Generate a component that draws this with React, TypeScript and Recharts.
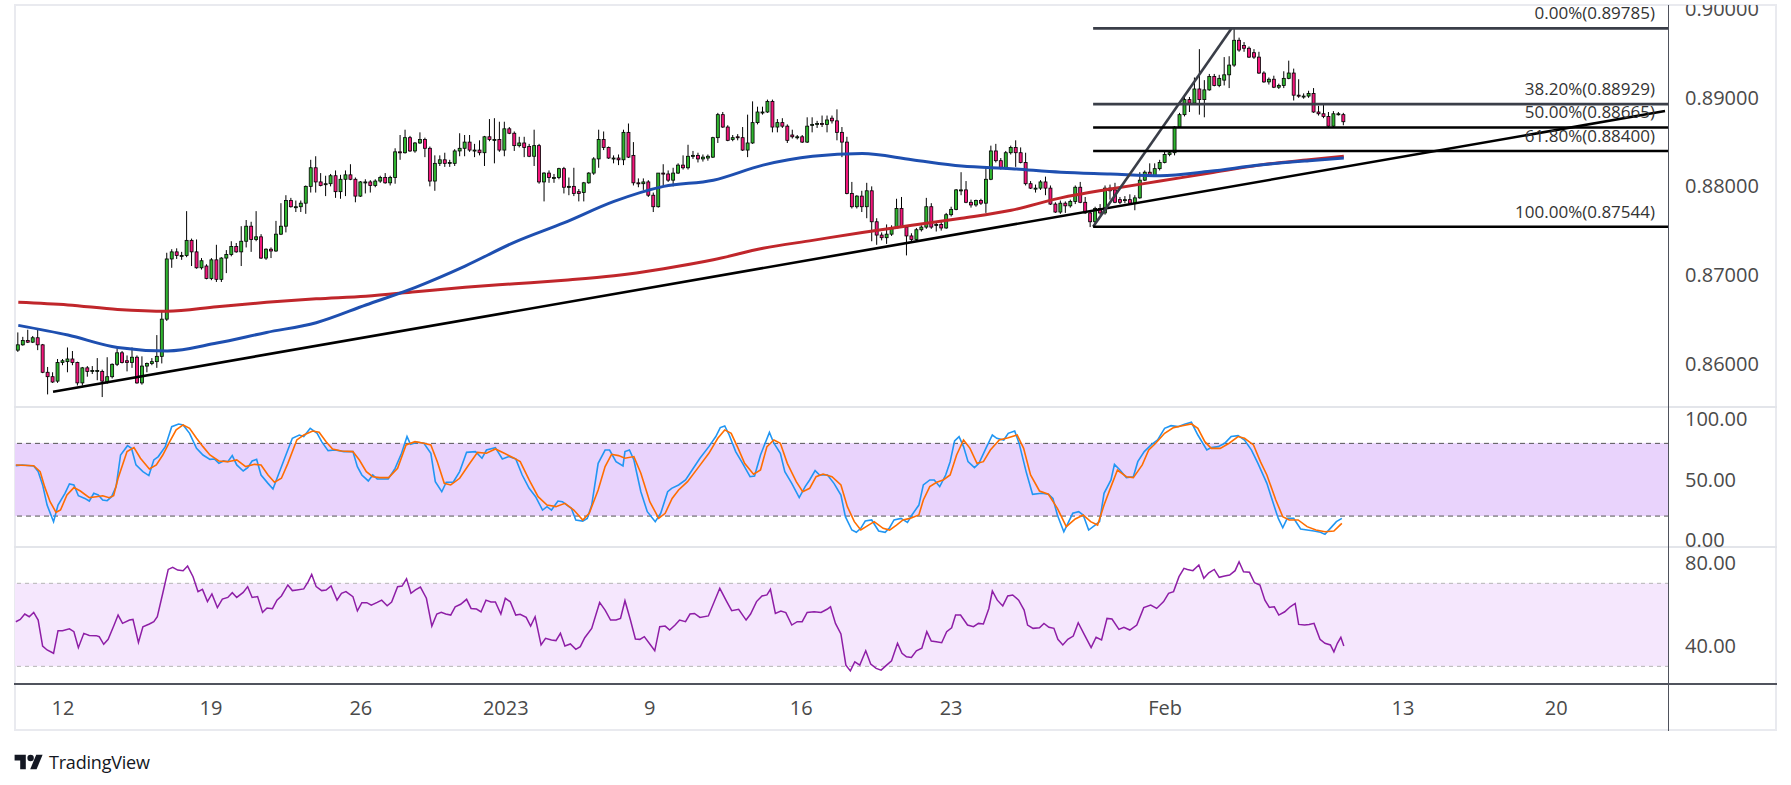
import { Bar, ComposedChart, Line, ReferenceArea, ReferenceLine, XAxis, YAxis } from "recharts";

// 4H candles, [open, high, low, close]
const CANDLES: [number, number, number, number][] = [
  [0.8615, 0.8635, 0.8613, 0.8621], [0.8621, 0.863, 0.862, 0.8626], [0.8626, 0.8638, 0.8623, 0.8624], [0.8624, 0.8631, 0.8623, 0.8629],
  [0.8629, 0.8639, 0.8615, 0.8621], [0.8621, 0.8622, 0.8589, 0.859], [0.859, 0.8596, 0.8565, 0.8585], [0.8585, 0.859, 0.8578, 0.8579],
  [0.858, 0.8605, 0.8578, 0.8601], [0.8601, 0.8605, 0.8598, 0.8603], [0.8602, 0.8618, 0.859, 0.8605], [0.8605, 0.8614, 0.8598, 0.8601],
  [0.8601, 0.8602, 0.8575, 0.8578], [0.8578, 0.8596, 0.8575, 0.8595], [0.8595, 0.8597, 0.8585, 0.8591], [0.8592, 0.8597, 0.8588, 0.8592],
  [0.8592, 0.8606, 0.8581, 0.8592], [0.8591, 0.8593, 0.8562, 0.858], [0.8579, 0.8607, 0.8577, 0.8585], [0.8585, 0.86, 0.8583, 0.8599],
  [0.8599, 0.8617, 0.8597, 0.8612], [0.8612, 0.8614, 0.86, 0.8601], [0.8603, 0.8609, 0.8591, 0.8601], [0.8601, 0.8618, 0.8595, 0.8607],
  [0.8607, 0.8609, 0.8577, 0.8578], [0.8578, 0.8608, 0.8576, 0.8597], [0.8597, 0.8601, 0.859, 0.86], [0.86, 0.8606, 0.8598, 0.8602],
  [0.8602, 0.8632, 0.8595, 0.8608], [0.8608, 0.866, 0.86, 0.865], [0.865, 0.8725, 0.8648, 0.8718], [0.8718, 0.8729, 0.8708, 0.8726],
  [0.8726, 0.873, 0.8718, 0.8722], [0.8722, 0.8726, 0.8717, 0.8722], [0.8722, 0.8772, 0.872, 0.8739], [0.8739, 0.8741, 0.871, 0.8726],
  [0.8726, 0.874, 0.8707, 0.8708], [0.8708, 0.8719, 0.8706, 0.8716], [0.871, 0.8712, 0.8695, 0.8696], [0.8696, 0.8719, 0.8694, 0.8717],
  [0.8717, 0.8734, 0.8692, 0.8695], [0.8695, 0.872, 0.8692, 0.8719], [0.8719, 0.8728, 0.8702, 0.8723], [0.8723, 0.8738, 0.8721, 0.8732],
  [0.8732, 0.8736, 0.8725, 0.8726], [0.8726, 0.8755, 0.871, 0.8738], [0.8738, 0.8762, 0.8731, 0.8755], [0.8755, 0.876, 0.8726, 0.874],
  [0.874, 0.8772, 0.8738, 0.8743], [0.8743, 0.8746, 0.8718, 0.8719], [0.8719, 0.873, 0.8717, 0.8729], [0.8729, 0.8731, 0.8719, 0.8727],
  [0.8727, 0.8761, 0.8726, 0.8746], [0.8746, 0.8781, 0.8745, 0.8755], [0.8755, 0.879, 0.8748, 0.8784], [0.8784, 0.8787, 0.8776, 0.8777],
  [0.8777, 0.8784, 0.8771, 0.8777], [0.8777, 0.8784, 0.8771, 0.8781], [0.8781, 0.8801, 0.8769, 0.88], [0.88, 0.883, 0.8793, 0.8821],
  [0.8821, 0.8834, 0.8793, 0.8805], [0.8805, 0.8815, 0.88, 0.8801], [0.8802, 0.8812, 0.8789, 0.8803], [0.8803, 0.8814, 0.88, 0.8812],
  [0.8812, 0.8818, 0.8787, 0.8794], [0.8794, 0.8813, 0.8786, 0.8808], [0.8808, 0.8818, 0.8789, 0.8813], [0.8813, 0.8825, 0.8807, 0.8808],
  [0.8808, 0.881, 0.8782, 0.8789], [0.8789, 0.8806, 0.8788, 0.8805], [0.8805, 0.8808, 0.8792, 0.8805], [0.8805, 0.8807, 0.8793, 0.8801],
  [0.8801, 0.8808, 0.8799, 0.8806], [0.8806, 0.8812, 0.8804, 0.881], [0.881, 0.8815, 0.8803, 0.8804], [0.8804, 0.8812, 0.8801, 0.881],
  [0.881, 0.8843, 0.8803, 0.8839], [0.8839, 0.8858, 0.883, 0.8838], [0.8838, 0.8864, 0.8837, 0.8855], [0.8855, 0.8857, 0.8839, 0.884],
  [0.884, 0.885, 0.8838, 0.8849], [0.8849, 0.8861, 0.8848, 0.8853], [0.8853, 0.8855, 0.8833, 0.8843], [0.8843, 0.8845, 0.88, 0.8806],
  [0.8806, 0.8835, 0.8795, 0.8826], [0.8826, 0.8835, 0.8823, 0.883], [0.883, 0.8838, 0.8822, 0.8826], [0.8826, 0.883, 0.8822, 0.8827],
  [0.8826, 0.8842, 0.8823, 0.884], [0.884, 0.886, 0.8834, 0.8843], [0.8843, 0.8858, 0.8834, 0.885], [0.885, 0.8858, 0.8839, 0.8841],
  [0.8841, 0.8848, 0.8833, 0.8841], [0.8841, 0.8852, 0.8835, 0.8838], [0.8838, 0.8857, 0.8823, 0.8856], [0.8856, 0.8876, 0.8851, 0.8853],
  [0.8853, 0.8877, 0.8826, 0.8853], [0.8853, 0.8873, 0.8839, 0.8841], [0.8841, 0.8873, 0.8834, 0.8865], [0.8865, 0.8867, 0.8859, 0.886],
  [0.886, 0.8862, 0.884, 0.8846], [0.8846, 0.8856, 0.8844, 0.8849], [0.8849, 0.8856, 0.8833, 0.8844], [0.8845, 0.8848, 0.8833, 0.8834],
  [0.8834, 0.8864, 0.8823, 0.8846], [0.8846, 0.8848, 0.8803, 0.8805], [0.8805, 0.8816, 0.8783, 0.8815], [0.8815, 0.8818, 0.8804, 0.881],
  [0.881, 0.8814, 0.8804, 0.881], [0.881, 0.8821, 0.8808, 0.882], [0.882, 0.8822, 0.8792, 0.8799], [0.8799, 0.881, 0.879, 0.88],
  [0.88, 0.8821, 0.8789, 0.8792], [0.8794, 0.8797, 0.8783, 0.8792], [0.8793, 0.8805, 0.8783, 0.8804], [0.8804, 0.8816, 0.8803, 0.8815],
  [0.8815, 0.8833, 0.8813, 0.8831], [0.8831, 0.8864, 0.8821, 0.8853], [0.8853, 0.8862, 0.8841, 0.8844], [0.8844, 0.8845, 0.8831, 0.8832],
  [0.8832, 0.8835, 0.8826, 0.8832], [0.8832, 0.8836, 0.8824, 0.883], [0.883, 0.8864, 0.8824, 0.8861], [0.8861, 0.8871, 0.8832, 0.8833],
  [0.8835, 0.885, 0.8801, 0.8804], [0.8804, 0.8809, 0.8799, 0.8803], [0.8803, 0.8809, 0.8796, 0.8805], [0.8805, 0.8807, 0.8788, 0.879],
  [0.879, 0.8793, 0.8771, 0.8777], [0.8777, 0.8815, 0.8776, 0.8815], [0.8815, 0.8825, 0.8801, 0.8814], [0.8814, 0.8818, 0.8805, 0.8807],
  [0.8807, 0.8821, 0.88, 0.8815], [0.8815, 0.8826, 0.8814, 0.8824], [0.8824, 0.8835, 0.8819, 0.8821], [0.8821, 0.8847, 0.8819, 0.8834],
  [0.8834, 0.884, 0.8831, 0.8835], [0.8835, 0.8838, 0.8827, 0.8831], [0.8831, 0.8836, 0.8828, 0.8833], [0.8832, 0.8836, 0.8829, 0.8834],
  [0.8833, 0.8856, 0.8832, 0.8855], [0.8855, 0.8883, 0.8849, 0.8881], [0.8881, 0.8884, 0.8866, 0.8867], [0.8867, 0.8869, 0.8851, 0.8852],
  [0.8853, 0.8858, 0.8851, 0.8855], [0.8856, 0.8859, 0.8852, 0.8855], [0.8855, 0.8867, 0.884, 0.8841], [0.8841, 0.8881, 0.8833, 0.8849],
  [0.8849, 0.8896, 0.8848, 0.8872], [0.8872, 0.889, 0.887, 0.8884], [0.8884, 0.889, 0.8881, 0.8884], [0.8884, 0.8898, 0.8883, 0.8896],
  [0.8896, 0.8898, 0.8861, 0.8867], [0.8867, 0.8876, 0.8861, 0.8872], [0.8872, 0.8877, 0.8866, 0.8868], [0.8868, 0.887, 0.8849, 0.8852],
  [0.8858, 0.8864, 0.8854, 0.8856], [0.8856, 0.8858, 0.8853, 0.8856], [0.8856, 0.8858, 0.8849, 0.885], [0.885, 0.8878, 0.8849, 0.8868],
  [0.8869, 0.8878, 0.8861, 0.887], [0.887, 0.8874, 0.8866, 0.8871], [0.8871, 0.888, 0.8867, 0.887], [0.887, 0.888, 0.8861, 0.8875],
  [0.8877, 0.888, 0.8871, 0.8874], [0.8874, 0.8887, 0.8852, 0.8861], [0.8861, 0.8867, 0.8833, 0.885], [0.885, 0.8856, 0.8791, 0.8792],
  [0.8792, 0.8805, 0.8775, 0.8777], [0.8777, 0.879, 0.8775, 0.8789], [0.8789, 0.8795, 0.8771, 0.8777], [0.8777, 0.8804, 0.8764, 0.8795],
  [0.8795, 0.88, 0.8738, 0.876], [0.876, 0.8764, 0.8734, 0.8745], [0.8745, 0.8748, 0.8739, 0.8742], [0.8742, 0.8757, 0.8735, 0.8746],
  [0.8746, 0.8756, 0.8744, 0.8753], [0.8753, 0.8786, 0.8752, 0.8775], [0.8775, 0.8788, 0.8753, 0.8754], [0.8754, 0.8756, 0.8722, 0.8744],
  [0.8744, 0.8747, 0.8738, 0.874], [0.874, 0.8753, 0.8738, 0.8751], [0.8751, 0.8756, 0.8749, 0.8754], [0.8754, 0.8787, 0.8752, 0.8777],
  [0.8777, 0.8781, 0.8752, 0.8754], [0.8757, 0.876, 0.8749, 0.8757], [0.8757, 0.876, 0.875, 0.8753], [0.8753, 0.877, 0.8752, 0.8768],
  [0.8768, 0.8777, 0.8766, 0.8774], [0.8774, 0.8797, 0.8773, 0.8796], [0.8796, 0.8816, 0.879, 0.8796], [0.8796, 0.8806, 0.8781, 0.8782],
  [0.8782, 0.8785, 0.8776, 0.8779], [0.8779, 0.8785, 0.8777, 0.8784], [0.8784, 0.8786, 0.8779, 0.8781], [0.8781, 0.8821, 0.877, 0.8808],
  [0.8808, 0.8846, 0.8807, 0.884], [0.884, 0.8848, 0.8827, 0.8829], [0.8829, 0.8832, 0.8819, 0.8821], [0.8821, 0.884, 0.8819, 0.8838],
  [0.8838, 0.8846, 0.8836, 0.8844], [0.8844, 0.8852, 0.8822, 0.8838], [0.8838, 0.8844, 0.8826, 0.8827], [0.8827, 0.8838, 0.8801, 0.8803],
  [0.8803, 0.8806, 0.8797, 0.8798], [0.8798, 0.8802, 0.8793, 0.8798], [0.8798, 0.8807, 0.8796, 0.8805], [0.8805, 0.8811, 0.879, 0.8798],
  [0.8798, 0.8801, 0.8779, 0.878], [0.878, 0.8782, 0.877, 0.8771], [0.8771, 0.8784, 0.8769, 0.8781], [0.8781, 0.8783, 0.877, 0.8778],
  [0.8778, 0.8785, 0.8776, 0.8783], [0.8783, 0.8801, 0.878, 0.8799], [0.8799, 0.8805, 0.8781, 0.8782], [0.8782, 0.8788, 0.8769, 0.877],
  [0.877, 0.8772, 0.8754, 0.876], [0.876, 0.8777, 0.8757, 0.8775], [0.8775, 0.878, 0.8768, 0.877], [0.877, 0.8801, 0.8768, 0.8798],
  [0.8798, 0.8802, 0.8785, 0.8795], [0.8796, 0.8804, 0.8781, 0.8782], [0.8785, 0.8788, 0.878, 0.8782], [0.8785, 0.8789, 0.8781, 0.8785],
  [0.8785, 0.8791, 0.8779, 0.8781], [0.8781, 0.879, 0.8773, 0.8787], [0.8787, 0.8816, 0.8786, 0.8807], [0.8807, 0.8818, 0.8806, 0.8816],
  [0.8816, 0.8826, 0.8811, 0.8812], [0.8812, 0.8826, 0.8811, 0.882], [0.882, 0.883, 0.8818, 0.8827], [0.8827, 0.8839, 0.8826, 0.8836],
  [0.8836, 0.884, 0.8834, 0.8838], [0.8838, 0.8868, 0.8835, 0.8867], [0.8867, 0.8883, 0.8866, 0.8881], [0.8881, 0.8903, 0.8879, 0.8898],
  [0.8898, 0.8901, 0.8884, 0.8894], [0.8894, 0.8923, 0.8893, 0.891], [0.891, 0.8955, 0.8881, 0.8898], [0.8898, 0.892, 0.8878, 0.8909],
  [0.8909, 0.8927, 0.8908, 0.8924], [0.8924, 0.8927, 0.8913, 0.8914], [0.8914, 0.8926, 0.8912, 0.8922], [0.892, 0.8946, 0.8914, 0.8926],
  [0.8926, 0.8947, 0.8911, 0.8937], [0.8937, 0.8978, 0.8935, 0.8965], [0.8965, 0.8968, 0.8952, 0.8954], [0.8959, 0.8963, 0.8952, 0.8956],
  [0.8956, 0.8958, 0.8945, 0.8946], [0.8951, 0.8955, 0.8944, 0.8946], [0.8946, 0.8952, 0.8927, 0.8928], [0.8928, 0.893, 0.8917, 0.8918],
  [0.8918, 0.8923, 0.8915, 0.8921], [0.8921, 0.8925, 0.8911, 0.8912], [0.8912, 0.8916, 0.891, 0.8914], [0.8914, 0.893, 0.8911, 0.8922],
  [0.8922, 0.8942, 0.8921, 0.8928], [0.8928, 0.8933, 0.8897, 0.8903], [0.8903, 0.8921, 0.89, 0.8902], [0.8902, 0.8905, 0.8899, 0.8902],
  [0.8902, 0.8908, 0.89, 0.8905], [0.8905, 0.8911, 0.8883, 0.8884], [0.8884, 0.8891, 0.888, 0.8882], [0.8882, 0.8893, 0.8877, 0.8879],
  [0.8879, 0.8884, 0.8867, 0.8868], [0.8868, 0.8885, 0.8866, 0.8882], [0.8882, 0.8884, 0.888, 0.8882], [0.8881, 0.8883, 0.8869, 0.8873],
];

// moving averages, sampled at candle indices
const MA_INDEX = [0, 10, 20, 30, 40, 50, 60, 70, 80, 90, 100, 110, 120, 130, 140, 150, 160, 170, 180, 190, 200, 210, 220, 230, 240, 250, 260, 267];
const MA_BLUE = [0.8643, 0.8632, 0.8618, 0.8614, 0.8623, 0.8635, 0.8646, 0.8666, 0.8686, 0.871, 0.8737, 0.8759, 0.8783, 0.88, 0.8807, 0.8824, 0.8834, 0.8837, 0.883, 0.8823, 0.882, 0.8816, 0.8814, 0.8812, 0.8817, 0.8824, 0.8829, 0.8832];
const MA_RED = [0.8669, 0.8666, 0.8661, 0.8659, 0.8664, 0.8669, 0.8673, 0.8676, 0.8681, 0.8686, 0.869, 0.8694, 0.8699, 0.8707, 0.8717, 0.873, 0.8739, 0.8748, 0.8756, 0.8764, 0.8773, 0.8787, 0.8797, 0.8806, 0.8815, 0.8824, 0.883, 0.8834];

// stochastic %K / %D and RSI, [candle index, value]
const STOCH_K: [number, number][] = [
  [-0.5, 61.6], [0.8, 62.2], [3.1, 61.3], [4, 56.7], [4.9, 45.7], [5.8, 29.1], [7.1, 15.4], [8, 29.1], [9.4, 38.8], [10.3, 46.5], [11.2, 45.7], [12.1, 36.8],
  [13.4, 34.6], [14.3, 32.4], [15.2, 38.8], [16.1, 37.4], [17, 33.3], [17.9, 32.7], [18.8, 36], [19.7, 44.3], [20.6, 70.4], [22, 78.1], [22.8, 75.9], [23.7, 62.2],
  [25.1, 56.7], [26.3, 53.4], [27.3, 66.3], [28.2, 69.1], [29.6, 77.3], [30.9, 93.8], [32.3, 96], [33.2, 95.2], [34.5, 88.3], [35.9, 75.9], [37.2, 70.4], [38.6, 66.8],
  [39.5, 67.1], [40.4, 63.5], [41.3, 65.5], [42.2, 64.9], [43.1, 69.9], [44, 62.2], [45.3, 57.2], [46.2, 60], [47.1, 65.5], [48, 66.8], [48.9, 53.9], [50.3, 47],
  [51.3, 42.3], [52.5, 55.3], [53.9, 70.4], [55.2, 84.2], [56.6, 86.9], [57.5, 85.6], [58.8, 92.4], [60.2, 88.3], [61.1, 81.4], [62.4, 74], [63.8, 74.5], [65.6, 73.2],
  [67.4, 73.2], [68.3, 60.8], [69.2, 53.9], [70.5, 49], [71.4, 53.9], [72.3, 50.6], [74.5, 50.6], [75.9, 59.4], [77.2, 71.8], [78.3, 85.6], [79, 79.2], [80.4, 80.9],
  [81.7, 80.1], [83.1, 71.8], [84, 48.4], [85.3, 40.1], [86.2, 47.9], [87.6, 47.9], [88.9, 56.7], [90.3, 72.6], [92.1, 73.2], [93.4, 67.7], [94.3, 74.5], [96.1, 76.5],
  [97.5, 67.1], [98.8, 69.1], [100.2, 67.1], [101.5, 53.9], [102.9, 42.9], [104.2, 36], [105.6, 25], [106.5, 27.8], [107.4, 25], [108.7, 32.4], [109.6, 31.9], [110.5, 29.1],
  [111.4, 26.4], [112.3, 16.8], [113.7, 15.9], [114.6, 18.1], [115.5, 29.1], [116.8, 63.5], [118.2, 74.5], [119.1, 74.5], [120.4, 64.9], [121.8, 61.3], [122.2, 73.2], [123.1, 74.5],
  [124, 66.3], [125.4, 40.1], [126.7, 23.6], [128.3, 15.4], [129.4, 22.3], [130.8, 40.1], [131.6, 42.9], [133, 45.7], [134.4, 49.8], [135.3, 55.3], [137.3, 67.7], [139.1, 77.3],
  [140.5, 85.6], [141.4, 93], [142.3, 94.4], [143.2, 86.9], [144.5, 73.2], [145.9, 63.5], [147.4, 52.5], [148.3, 53.1], [149.5, 70.4], [151.3, 89.1], [152.2, 80.1], [153.5, 71.8],
  [154.4, 56.7], [155.8, 47], [157.3, 35.2], [158.5, 44.3], [159.4, 49.8], [160.5, 57.5], [161.4, 53.9], [163, 53.9], [164.3, 47], [165.7, 37.4], [166.6, 19.5], [167.9, 8.5],
  [168.8, 6.6], [169.7, 9.9], [170.6, 15.9], [171.9, 16.8], [173.3, 7.7], [174.6, 6.6], [175.5, 10.4], [176.4, 16.8], [177.8, 18.1], [179.1, 14.8], [180, 20.9], [181.4, 29.1],
  [182.3, 45.7], [183.6, 49.8], [184.5, 49.8], [185.6, 44.3], [186.8, 53.9], [187.7, 64.9], [188.6, 82], [189.5, 85.6], [190.4, 77.3], [191.3, 64.9], [192.6, 60], [193.5, 63.5],
  [194.9, 75.9], [196.2, 86.9], [197.1, 84.2], [198.5, 82.8], [199.4, 88.3], [200.7, 90.2], [201.6, 80], [203, 56.7], [204.3, 38], [206.1, 38.8], [207.5, 38], [208.4, 34.6],
  [209.3, 20.9], [210.6, 7.1], [212.4, 22.3], [213.6, 23.6], [214.5, 20.9], [215.6, 8.5], [216.9, 12.6], [217.8, 15.4], [218.7, 38.8], [220.1, 49.8], [220.8, 62.7], [221.9, 58],
  [223.2, 51.7], [224.6, 52.5], [225.5, 64.9], [226.8, 73.2], [228.2, 78.7], [229.5, 82.8], [230.9, 92.4], [232.2, 94.6], [233.6, 93.8], [234.9, 95.7], [236.3, 97.4], [237.6, 86.9],
  [239.4, 74.5], [240.3, 76.5], [241.7, 77.3], [243, 80.1], [244.3, 85.6], [245.7, 86.4], [247, 82.8], [248.4, 74.5], [249.7, 63.5], [251.5, 47], [252.9, 29.1], [253.8, 18.1],
  [254.7, 10.4], [255.6, 18.1], [256.9, 18.1], [258.3, 9.3], [259.6, 8.5], [261, 7.7], [262.3, 6.6], [263.2, 4.9], [264.6, 11.3], [265.5, 15.4], [266.6, 18.1],
];
const STOCH_D: [number, number][] = [
  [-0.5, 62.2], [3.1, 61.6], [4.4, 56.7], [5.3, 44.3], [6.4, 31.9], [7.6, 23.1], [8.5, 25], [9.8, 37.4], [11.2, 43.5], [12.5, 40.7], [14.3, 35.2], [15.7, 36],
  [17, 36.8], [18.3, 35.2], [19.2, 36.8], [20.1, 51.2], [21.9, 73.2], [23.3, 76.5], [24.6, 67.7], [26.4, 58.9], [27.8, 62.2], [29.1, 70.4], [30.5, 81.4], [31.8, 91.1],
  [33.2, 95.2], [34.5, 92.4], [35.9, 84.2], [37.2, 77.3], [38.6, 70.4], [40.4, 65.5], [42.2, 64.9], [44, 66.3], [45.8, 60.8], [47.6, 62.7], [48.9, 62.2], [50.3, 53.9],
  [51.6, 47.9], [53, 51.2], [54.3, 63.5], [56.1, 82.8], [57.5, 86.9], [59.3, 90.2], [60.6, 89.1], [62, 81.4], [63.3, 75.4], [65.1, 73.7], [67.4, 73.2], [68.7, 66.3],
  [70.1, 56.7], [71.4, 52.5], [72.8, 51.7], [74.6, 51.7], [76.4, 59.4], [78.1, 78.7], [79.9, 81.4], [81.7, 80.1], [83.1, 78.7], [84.4, 64.9], [85.8, 47], [87.1, 45.7],
  [88.9, 51.2], [90.7, 62.2], [92.5, 72.6], [94.3, 71.8], [96.1, 75.4], [97.9, 71.8], [99.7, 68.2], [101.1, 64.9], [102.9, 49.8], [104.7, 36], [106.5, 29.1], [108.3, 27.8],
  [110.1, 30.5], [111.9, 25], [113.7, 16.8], [115, 22.3], [116.8, 41.5], [118.2, 60.8], [119.5, 71], [120.9, 69.9], [122.2, 67.7], [124, 69.1], [125.4, 55.3], [127.2, 31.9],
  [129, 18.1], [130.3, 22.3], [131.7, 34.6], [133, 41.5], [134.8, 48.4], [137.1, 60.8], [139.1, 71.8], [140.9, 84.2], [142.3, 91.1], [143.6, 88.3], [145, 75.9], [146.3, 63.5],
  [148.1, 54.5], [149.5, 58], [150.8, 77.3], [152.2, 82.8], [153.5, 80.1], [154.9, 63.5], [156.7, 48.4], [158, 40.1], [159.4, 42.9], [160.7, 52.5], [162.1, 54.7], [163.9, 52.5],
  [165.7, 45.7], [167, 27.8], [168.4, 15.4], [169.7, 8.5], [171.1, 12.1], [172.4, 15.4], [174.2, 9.9], [175.5, 8.5], [176.9, 12.6], [178.2, 16.8], [179.6, 18.1], [181.4, 20.9],
  [182.3, 33.3], [183.6, 44.3], [185, 47.9], [186.3, 49.8], [187.7, 53.9], [189, 70.4], [190.4, 82.8], [191.7, 75.9], [193.1, 63.5], [194.4, 64.9], [195.8, 74.5], [197.6, 82.8],
  [199.4, 84.7], [201.2, 86.9], [202.5, 75.9], [203.9, 53.9], [205.7, 40.7], [207.5, 38], [209.3, 26.4], [211.1, 11.3], [212.9, 17.6], [214.5, 20.9], [216, 15.4], [217.4, 12.6],
  [218.7, 29.1], [220.1, 44.3], [221.4, 58], [223.2, 52.5], [224.6, 51.7], [226.4, 62.2], [227.7, 74.5], [229.1, 80.1], [230.9, 88.3], [232.7, 93], [234.5, 94.6], [236.3, 96],
  [237.6, 92.4], [239, 81.4], [240.3, 75.9], [242.1, 75.9], [243.9, 80.1], [245.7, 85.6], [247, 84.2], [248.8, 78.7], [250.2, 64.9], [251.5, 53.9], [253.3, 33.3], [254.7, 19.5],
  [256, 16.8], [257.8, 16.8], [259.6, 11.3], [261.4, 8.5], [263.2, 7.1], [265, 7.7], [266.6, 14],
];
const RSI: [number, number][] = [
  [-0.5, 51.5], [0.4, 52.6], [1.3, 55.2], [2.2, 53.9], [3.1, 56], [4, 52.3], [4.9, 39.8], [5.8, 37.9], [7.1, 36.3], [8, 47.2], [8.9, 47.2], [10.3, 48.1],
  [11.2, 46.7], [12.1, 39], [13.2, 45.9], [14.3, 44.9], [15.7, 44.8], [16.3, 44.3], [17.2, 40.6], [18.1, 43], [19.3, 49.9], [20.1, 54.7], [21, 50.7], [22.4, 52.3],
  [23.1, 52.6], [24.2, 41.5], [25.1, 49.1], [26.4, 50.4], [27.3, 51.5], [28, 53.9], [29.1, 65.2], [30.2, 76.7], [31.1, 77.7], [32.1, 76.4], [33.2, 76.1], [34.1, 78.3],
  [35.2, 73.2], [36.2, 66], [37.1, 67.1], [38.1, 61.2], [39, 64.9], [40.1, 58.3], [41.1, 62.4], [42.2, 63.2], [43.1, 65.5], [44, 63.2], [45.3, 65.6], [46.2, 68.4],
  [47.1, 63.2], [48.2, 63.6], [49.2, 56], [50.1, 58.1], [51.2, 57.8], [52.1, 61.9], [53, 63.9], [54.3, 69.2], [55.2, 66.5], [56.1, 66.8], [57.5, 67.3], [58.4, 70.8],
  [59.1, 74.3], [60, 68.4], [61.1, 66.5], [62, 66.8], [63, 68.7], [64.2, 61.9], [65.1, 65.2], [66, 66], [67.4, 63.6], [68.3, 56.7], [69.2, 60.7], [70.2, 60.7],
  [71.1, 59.5], [72.3, 60.8], [73.2, 61.9], [74.3, 59.2], [75.2, 61], [76.4, 68.4], [77.3, 68.7], [78.2, 72.2], [79.1, 65.2], [80, 66.8], [81, 68.2], [82.2, 62.8],
  [83.3, 49.4], [84.3, 55.2], [85.2, 56], [86.1, 55.2], [87.1, 54.7], [88, 58.7], [89.1, 59.9], [90.3, 62.3], [91.2, 57.9], [92.3, 57.6], [93.2, 56.2], [94.2, 61.9],
  [95.2, 61], [96.1, 61], [97.2, 55.2], [98.1, 62.8], [99.1, 61.1], [100.2, 54.7], [101.1, 55.1], [102.3, 53.6], [103.2, 49.4], [104.1, 53.9], [105.3, 40.3], [106.2, 43.5],
  [107.4, 42.7], [108.3, 42.4], [109.2, 45.9], [110.1, 39.8], [111.2, 40.8], [112.3, 38.2], [113.2, 39.5], [114.1, 43.8], [115.5, 48.3], [117.1, 60.8], [118.2, 57.1], [119.3, 52.3],
  [120.4, 52.3], [121.3, 53.1], [122.2, 61.6], [123.3, 52.3], [124.3, 43.2], [125.2, 43], [126.1, 44.3], [127.2, 40.8], [128.2, 37.5], [129.2, 49.1], [130.3, 49.4], [131.2, 47.5],
  [132.3, 49.9], [133.2, 52.3], [134.4, 51.5], [135.3, 55.2], [136.2, 55.5], [137.3, 53.6], [139, 54.3], [141.3, 67.6], [142.7, 61.2], [143.7, 56.8], [145.1, 57.5], [146.6, 52.3],
  [147.5, 55.2], [148.7, 61.2], [149.8, 63.9], [150.8, 64.4], [151.5, 67.1], [152.5, 55.5], [153.6, 56.6], [154.6, 55.9], [155.8, 49.9], [156.9, 51.5], [157.9, 51.5], [158.9, 56],
  [160.3, 56.3], [161.7, 56], [162.9, 57.5], [163.6, 58.7], [164.6, 50.7], [165.7, 45.6], [166.7, 30.6], [167.6, 27.8], [168.5, 32.2], [169.5, 30.6], [170.7, 37.5], [171.7, 31.1],
  [172.8, 29], [173.8, 28.2], [174.9, 30.6], [175.9, 32.7], [177.1, 41.1], [178, 36.3], [178.9, 34.6], [179.9, 34.3], [180.9, 37.5], [182, 38.7], [183, 46.7], [183.9, 42.2],
  [184.9, 41.9], [186, 41.4], [187, 46.7], [188, 48.6], [188.8, 54.7], [189.8, 54.7], [191.2, 49.9], [192.4, 49.1], [193.4, 50.7], [194.4, 50.4], [195.5, 57.9], [196.2, 66.3],
  [197.2, 61.9], [198.3, 59.1], [199.3, 63.9], [200.3, 64.4], [201.5, 61.9], [202.6, 57.1], [203.3, 49.9], [204.4, 48.3], [205.7, 48.6], [206.6, 50.7], [207.6, 48.8], [208.6, 48.3],
  [209.4, 43], [210.4, 40.3], [211.4, 43], [212.5, 44.6], [213.5, 51], [214.6, 45.9], [216.1, 39], [217.1, 44], [218.2, 42.7], [219.3, 53.1], [220.3, 52.8], [221.7, 47.8],
  [222.7, 48.8], [223.9, 47.5], [225.3, 49.9], [226.7, 58.3], [228.1, 59.5], [229.3, 57.9], [230.7, 61.2], [231.7, 65.2], [232.7, 66], [233.8, 73.2], [234.8, 77.2], [235.5, 76.7],
  [236.6, 76.1], [237.8, 78.8], [238.8, 72.4], [239.8, 75.1], [240.9, 76.7], [241.9, 72.9], [243, 73.5], [244, 74], [245.1, 76.1], [245.9, 80.4], [246.8, 75.6], [248, 75.3],
  [249, 70.3], [250.1, 69.2], [251.1, 61.9], [252, 58.4], [253, 58.7], [253.9, 54.7], [255.1, 56.3], [256.2, 58.7], [257.2, 60.3], [257.9, 50.2], [259.1, 49.9], [260, 50.2],
  [261, 50.7], [262.2, 43], [263.2, 41.1], [264.3, 40.3], [265, 37], [265.7, 41.1], [266.4, 44], [267, 39.8],
];

const PRICE_TICKS = [0.86, 0.87, 0.88, 0.89, 0.9];
const STOCH_TICKS = [0, 50, 100];
const RSI_TICKS = [40, 80];
const DATE_TICKS = [9, 38.8, 69, 98.2, 127.2, 157.7, 187.9, 231, 278.9, 309.8];
const DATE_LABELS = ["12", "19", "26", "2023", "9", "16", "23", "Feb", "13", "20"];

// drawings
const FIB_LEVELS = [0.89785, 0.88929, 0.88665, 0.884, 0.87544];
const FIB_NAMES = ["0.00%", "38.20%", "50.00%", "61.80%", "100.00%"];
const FIB_COLORS = ["#3a3e48", "#3a3e48", "#000", "#000", "#000"];
const FIB_FROM = 216.5;
const FIB_SWING_X = [216.5, 244.4];
const FIB_SWING_Y = [0.87544, 0.89785];
const TREND_X = [7, 331.7];
const TREND_Y = [0.85681, 0.88851];

const W = 1791;
const AXIS_W = 122;
const X_DOMAIN: [number, number] = [-0.665, 332.5];
const TICK = { fill: "#4a4a4a", fontSize: 20, fontFamily: "Open Sans" };
const UP = "#2fb52f";
const DOWN = "#f2167b";

const candleRows = CANDLES.map((c, i) => {
  const k = MA_INDEX.indexOf(i);
  return {
    i,
    range: [c[2], c[1]],
    ohlc: c,
    blue: k >= 0 ? MA_BLUE[k] : null,
    red: k >= 0 ? MA_RED[k] : null,
  };
});

const stochRows = [
  ...STOCH_K.map(([i, v]) => ({ i, k: v as number | null, d: null as number | null })),
  ...STOCH_D.map(([i, v]) => ({ i, k: null as number | null, d: v as number | null })),
].sort((a, b) => a.i - b.i);

const rsiRows = RSI.map(([i, v]) => ({ i, rsi: v }));

function Candle(props: any) {
  const { x, y, width, height, payload } = props;
  if (!payload || x == null) return null;
  const [o, h, l, c] = payload.ohlc;
  const top = Math.min(y, y + height);
  const hh = Math.abs(height);
  const cx = x + width / 2;
  const span = h - l || 1e-9;
  const py = (v: number) => top + ((h - v) / span) * hh;
  const bTop = py(Math.max(o, c));
  const bBot = py(Math.min(o, c));
  return (
    <g>
      <line x1={cx} x2={cx} y1={top} y2={top + hh} stroke="#000" strokeWidth={1} />
      <rect
        x={cx - 1.5}
        y={bTop}
        width={3}
        height={Math.max(bBot - bTop, 1)}
        fill={c >= o ? UP : DOWN}
        stroke="#000"
        strokeWidth={0.8}
      />
    </g>
  );
}

function dateLabel(v: number) {
  const k = DATE_TICKS.findIndex((t) => Math.abs(t - v) < 0.01);
  return k >= 0 ? DATE_LABELS[k] : "";
}

function Logo() {
  return (
    <div style={{ position: "absolute", left: 14, top: 750, display: "flex", alignItems: "center", gap: 5 }}>
      <svg width={30} height={16} viewBox="0 3 36 20">
        <path d="M0 4H14V22H7V11H0Z" fill="#131722" />
        <circle cx={20} cy={8} r={4} fill="#131722" />
        <path d="M27.5 22H19.5L27 4H35Z" fill="#131722" />
      </svg>
      <span style={{ fontFamily: "Open Sans", fontSize: 18, color: "#131722", letterSpacing: -0.2 }}>TradingView</span>
    </div>
  );
}

export default function App() {
  const line = (style: React.CSSProperties) => <div style={{ position: "absolute", ...style }} />;
  return (
    <div style={{ position: "absolute", left: 0, top: 0, width: W, height: 785, background: "#fff", fontFamily: "Open Sans" }}>
      <style>{".stoch-pane svg { overflow: visible; }"}</style>
      {line({ left: 14, top: 4, width: 1763, height: 727, border: "2px solid #e9eaef", boxSizing: "border-box" })}
      {line({ left: 14, top: 406, width: 1763, height: 2, background: "#e3e5ea" })}
      {line({ left: 14, top: 546, width: 1763, height: 2, background: "#e3e5ea" })}

      <div style={{ position: "absolute", left: 0, top: 5 }}>
        <ComposedChart width={W} height={402} data={candleRows} margin={{ top: 0, right: 0, bottom: 0, left: 15 }}>
          <XAxis type="number" dataKey="i" domain={X_DOMAIN} hide allowDataOverflow />
          <YAxis
            orientation="right"
            width={AXIS_W}
            domain={[0.855077, 0.900486]}
            allowDataOverflow
            ticks={PRICE_TICKS}
            interval={0}
            tickFormatter={(v: number) => v.toFixed(5)}
            tick={TICK}
            tickLine={false}
            tickSize={0}
            tickMargin={16}
            axisLine={false}
          />
          <Bar dataKey="range" barSize={4} shape={<Candle />} isAnimationActive={false} />
          <Line dataKey="red" type="monotone" stroke="#c0262b" strokeWidth={3} dot={false} connectNulls isAnimationActive={false} />
          <Line dataKey="blue" type="monotone" stroke="#1e4fb0" strokeWidth={3} dot={false} connectNulls isAnimationActive={false} />
          <ReferenceLine
            segment={[{ x: TREND_X[0], y: TREND_Y[0] }, { x: TREND_X[1], y: TREND_Y[1] }]}
            stroke="#000"
            strokeWidth={2.6}
          />
          <ReferenceLine
            segment={[{ x: FIB_SWING_X[0], y: FIB_SWING_Y[0] }, { x: FIB_SWING_X[1], y: FIB_SWING_Y[1] }]}
            stroke="#3a3e48"
            strokeWidth={2.6}
          />
          {FIB_LEVELS.map((lv, k) => (
            <ReferenceLine
              key={lv}
              segment={[{ x: FIB_FROM, y: lv }, { x: X_DOMAIN[1], y: lv }]}
              stroke={FIB_COLORS[k]}
              strokeWidth={2.6}
              label={{
                value: `${FIB_NAMES[k]}(${lv.toFixed(5)})`,
                position: "insideBottomRight",
                offset: 9,
                dx: -5,
                fill: "#333",
                fontSize: 17,
                fontFamily: "Open Sans",
              }}
            />
          ))}
        </ComposedChart>
      </div>

      <div className="stoch-pane" style={{ position: "absolute", left: 0, top: 407 }}>
        <ComposedChart width={W} height={140} data={stochRows} margin={{ top: 0, right: 0, bottom: 0, left: 15 }}>
          <XAxis type="number" dataKey="i" domain={X_DOMAIN} hide allowDataOverflow />
          <YAxis
            orientation="right"
            width={AXIS_W}
            domain={[-5.5, 110]}
            allowDataOverflow
            ticks={STOCH_TICKS}
            interval={0}
            tickFormatter={(v: number) => v.toFixed(2)}
            tick={TICK}
            tickLine={false}
            tickSize={0}
            tickMargin={16}
            axisLine={false}
          />
          <ReferenceArea y1={20} y2={80} fill="#e9d3fc" fillOpacity={1} stroke="none" />
          <ReferenceLine y={80} stroke="#555" strokeDasharray="5 4" />
          <ReferenceLine y={20} stroke="#555" strokeDasharray="5 4" />
          <Line dataKey="k" stroke="#2196f3" strokeWidth={1.6} dot={false} connectNulls isAnimationActive={false} />
          <Line dataKey="d" stroke="#ff6d00" strokeWidth={1.6} dot={false} connectNulls isAnimationActive={false} />
        </ComposedChart>
      </div>

      <div style={{ position: "absolute", left: 0, top: 547 }}>
        <ComposedChart width={W} height={184} data={rsiRows} margin={{ top: 0, right: 0, bottom: 0, left: 15 }}>
          <XAxis
            type="number"
            dataKey="i"
            domain={X_DOMAIN}
            allowDataOverflow
            height={47}
            ticks={DATE_TICKS}
            interval={0}
            tickFormatter={dateLabel}
            tick={TICK}
            tickLine={false}
            tickSize={0}
            tickMargin={17}
            axisLine={false}
          />
          <YAxis
            orientation="right"
            width={AXIS_W}
            domain={[21.5, 87.5]}
            allowDataOverflow
            ticks={RSI_TICKS}
            interval={0}
            tickFormatter={(v: number) => v.toFixed(2)}
            tick={TICK}
            tickLine={false}
            tickSize={0}
            tickMargin={16}
            axisLine={false}
          />
          <ReferenceArea y1={30} y2={70} fill="#f5e7fd" fillOpacity={1} stroke="none" />
          <ReferenceLine y={70} stroke="#b5b5b5" strokeDasharray="4 4" />
          <ReferenceLine y={30} stroke="#b5b5b5" strokeDasharray="4 4" />
          <Line dataKey="rsi" stroke="#8e1ea6" strokeWidth={1.5} dot={false} isAnimationActive={false} />
        </ComposedChart>
      </div>

      {line({ left: 1668, top: 5, width: 1, height: 726, background: "#4f525c" })}
      {line({ left: 14, top: 683, width: 1763, height: 2, background: "#50535d" })}
      <Logo />
    </div>
  );
}
